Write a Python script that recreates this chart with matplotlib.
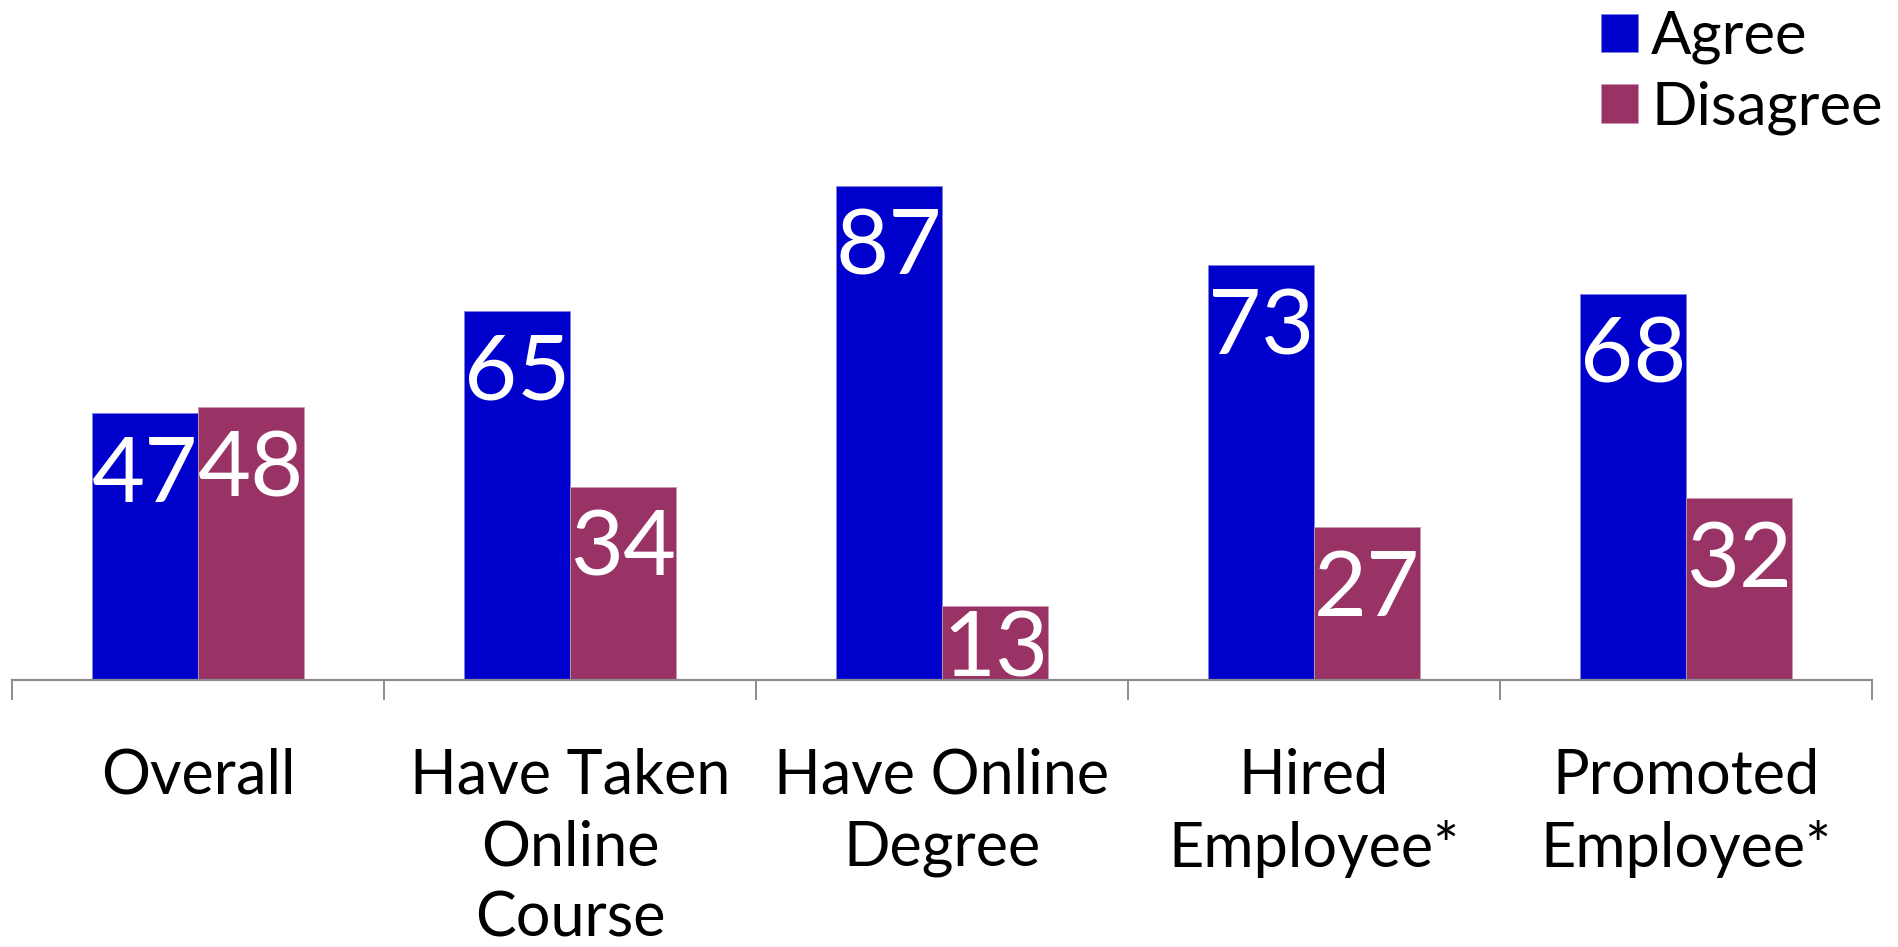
import matplotlib
matplotlib.use("Agg")
import matplotlib.pyplot as plt
import numpy as np
from matplotlib.ticker import FixedLocator, NullFormatter

categories = ["Overall", "Have Taken\nOnline\nCourse", "Have Online\nDegree",
              "Hired\nEmployee*", "Promoted\nEmployee*"]
agree = [47, 65, 87, 73, 68]
disagree = [48, 34, 13, 27, 32]
series_names = ["Agree", "Disagree"]
colors = ["#0000CC", "#993366"]

plt.rcParams['font.family'] = ['Lato', 'DejaVu Sans']

fig = plt.figure(figsize=(18.98, 9.47), dpi=100)
ax = fig.add_axes([12/1898, 267/947, 1860/1898, 568/947])

x = np.arange(len(categories))
w = 0.285
b1 = ax.bar(x - w/2, agree, w, color=colors[0], edgecolor="#8080E6", linewidth=0.6, label=series_names[0])
b2 = ax.bar(x + w/2, disagree, w, color=colors[1], edgecolor="#CC99B3", linewidth=0.6, label=series_names[1])

ax.set_xlim(-0.5, len(categories) - 0.5)
ax.set_ylim(0, 100)
for s in ["top", "right", "left"]:
    ax.spines[s].set_visible(False)
ax.spines["bottom"].set_color("#8C8C8C")
ax.spines["bottom"].set_linewidth(1.6)
ax.set_yticks([])
ax.xaxis.set_major_locator(FixedLocator(x))
ax.xaxis.set_major_formatter(NullFormatter())
ax.tick_params(axis="x", which="major", length=0)
ax.xaxis.set_minor_locator(FixedLocator(np.arange(len(categories) + 1) - 0.5))
ax.tick_params(axis="x", which="minor", length=14.5, width=1.4, color="#8C8C8C", direction="out")

px = 72 / 100.0
for bars, vals in [(b1, agree), (b2, disagree)]:
    for rect, v in zip(bars, vals):
        hpx = v * 5.68
        off = 22 if hpx > 120 else 3
        ax.annotate(str(v), (rect.get_x() + rect.get_width()/2, v),
                    xytext=(0, -off * px), textcoords="offset points",
                    ha="center", va="top", color="white", fontsize=66,
                    annotation_clip=False, clip_on=True)

for xi, lab in zip(x, categories):
    ax.annotate(lab, (xi, 0), xytext=(0, -68 * px), textcoords="offset points",
                ha="center", va="top", fontsize=44, linespacing=1.31,
                annotation_clip=False)

leg = fig.legend(handles=[b1, b2], labels=series_names, loc="upper left",
                 bbox_to_anchor=(1601/1898, 1.0 - 10/947), frameon=False,
                 fontsize=43, handlelength=0.62, handleheight=0.62,
                 handletextpad=0.22, labelspacing=0.27, borderpad=0.0, borderaxespad=0)

fig.savefig("out.png", dpi=100, facecolor="white")
